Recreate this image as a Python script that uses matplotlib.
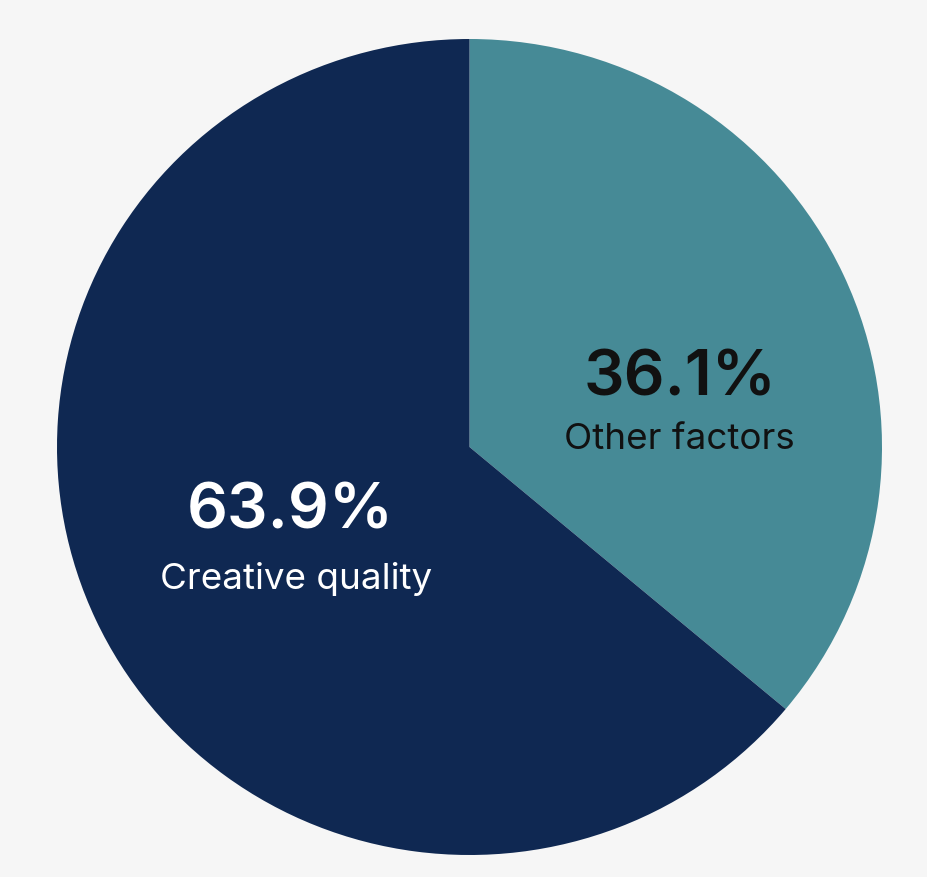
import matplotlib.pyplot as plt

labels = ["Other factors", "Creative quality"]
shares = [36.1, 63.9]
colors = ["#468a96", "#0f2852"]
text_colors = ["#111111", "#ffffff"]

# label placement (data coords, pie radius = 1)
pct_pos = [(0.51, 0.17), (-0.435, -0.157)]
name_pos = [(0.51, 0.02), (-0.42, -0.32)]

W, H = 928, 878
fig = plt.figure(figsize=(W / 100, H / 100), dpi=100)
fig.patch.set_facecolor("#f6f6f6")

cx, cy, rx, ry = 469.5, 448, 412.5, 408
ax = fig.add_axes([(cx - rx) / W, (H - cy - ry) / H, 2 * rx / W, 2 * ry / H])
ax.pie(shares, colors=colors, startangle=90, counterclock=False,
       radius=1, wedgeprops=dict(linewidth=0))
ax.set_aspect("auto")
ax.set_xlim(-1, 1)
ax.set_ylim(-1, 1)
ax.axis("off")

for i in range(len(labels)):
    ax.text(*pct_pos[i], f"{shares[i]:.1f}%", color=text_colors[i],
            fontsize=46, fontweight="semibold", family="Inter",
            ha="center", va="center")
    ax.text(*name_pos[i], labels[i], color=text_colors[i],
            fontsize=26.5, family="Inter", ha="center", va="center")

fig.savefig("out.png", dpi=100, facecolor=fig.get_facecolor())
